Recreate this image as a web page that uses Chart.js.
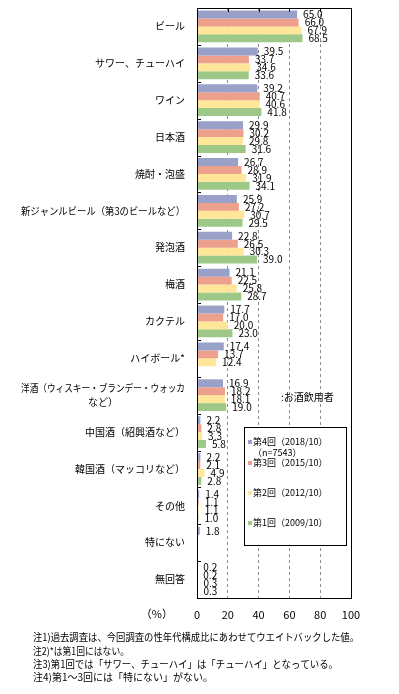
<!DOCTYPE html>
<html lang="ja">
<head>
	<meta charset="utf-8">
	<script src="https://cdn.jsdelivr.net/npm/chart.js@4.4.1/dist/chart.umd.min.js"></script>
	<style>
		html, body { margin:0; padding:0; background:#fff; }
	</style>
</head>
<body>
	<canvas id="myChart" width="399" height="694"></canvas>
	<script>
	var categorias = [
		['ビール'],
		['サワー、チューハイ'],
		['ワイン'],
		['日本酒'],
		['焼酎・泡盛'],
		['新ジャンルビール（第3のビールなど）'],
		['発泡酒'],
		['梅酒'],
		['カクテル'],
		['ハイボール*'],
		['洋酒（ウィスキー・ブランデー・ウォッカ', 'など）'],
		['中国酒（紹興酒など）'],
		['韓国酒（マッコリなど）'],
		['その他'],
		['特にない'],
		['無回答']
	];
	var nomesSeries = ['第4回（2018/10）', '第3回（2015/10）', '第2回（2012/10）', '第1回（2009/10）'];
	var serie4 = [65.0, 39.5, 39.2, 29.9, 26.7, 25.9, 22.8, 21.1, 17.7, 17.4, 16.9, 2.2, 2.2, 1.4, 1.8, 0.2];
	var serie3 = [66.0, 33.7, 40.7, 30.2, 28.9, 27.2, 26.5, 22.5, 17.0, 13.7, 18.2, 2.8, 2.1, 1.1, null, 0.2];
	var serie2 = [67.9, 34.6, 40.6, 29.8, 31.9, 30.7, 30.3, 25.8, 20.0, 12.4, 18.1, 3.3, 4.9, 1.1, null, 0.3];
	var serie1 = [68.5, 33.6, 41.8, 31.6, 34.1, 29.5, 39.0, 28.7, 23.0, null, 19.0, 5.8, 2.8, 1.0, null, 0.3];
	var ticksX = [0, 20, 40, 60, 80, 100];
	var notas = [
		'注1)過去調査は、今回調査の性年代構成比にあわせてウエイトバックした値。',
		'注2)*は第1回にはない。',
		'注3)第1回では「サワー、チューハイ」は「チューハイ」となっている。',
		'注4)第1～3回には「特にない」がない。'
	];
	var cores = ['#9aa1c9', '#eda08b', '#ffe699', '#9dc888'];
	var fonte = "'Noto Sans CJK JP', 'Noto Sans', sans-serif";

	// rotulos, moldura, legenda e notas
	var extras = {
		id: 'extras',
		afterDatasetsDraw: function(chart)
		{
			var ctx = chart.ctx;
			var a = chart.chartArea;
			var ys = chart.scales.y;
			var xs = chart.scales.x;
			ctx.save();

			// valores
			ctx.fillStyle = '#000';
			ctx.font = '10px ' + fonte;
			ctx.textAlign = 'left';
			ctx.textBaseline = 'middle';
			chart.data.datasets.forEach(function(ds, i)
			{
				var meta = chart.getDatasetMeta(i);
				meta.data.forEach(function(bar, j)
				{
					var v = ds.data[j];
					if (v === null) return;
					ctx.fillText(v.toFixed(1), bar.x + 6, bar.y);
				});
			});

			// moldura
			ctx.strokeStyle = '#000';
			ctx.lineWidth = 1;
			ctx.strokeRect(Math.round(a.left) + 0.5, Math.round(a.top) + 0.5, Math.round(a.right - a.left), Math.round(a.bottom - a.top));

			// marcas internas
			ctx.beginPath();
			var passo = (a.bottom - a.top) / categorias.length;
			for (var k = 0; k <= categorias.length; k++)
			{
				var yy = Math.round(a.top + k * passo) + 0.5;
				ctx.moveTo(a.left, yy);
				ctx.lineTo(a.left + 4, yy);
			}
			for (var t = 1; t < ticksX.length - 1; t++)
			{
				var xx = Math.round(xs.getPixelForValue(ticksX[t])) + 0.5;
				ctx.moveTo(xx, a.top);
				ctx.lineTo(xx, a.top + 4);
			}
			ctx.stroke();

			// categorias
			ctx.font = '10px ' + fonte;
			categorias.forEach(function(cat, j)
			{
				var yc = ys.getPixelForValue(j);
				var w = Math.min(ctx.measureText(cat[0]).width, 164);
				ctx.textAlign = 'right';
				if (cat.length == 1)
				{
					ctx.fillText(cat[0], a.left - 12, yc, 164);
				}
				else
				{
					ctx.fillText(cat[0], a.left - 12, yc - 7, 164);
					ctx.textAlign = 'center';
					ctx.fillText(cat[1], a.left - 12 - w / 2, yc + 7);
				}
			});

			// (%)
			ctx.textAlign = 'right';
			ctx.font = '11px ' + fonte;
			ctx.fillText('（%）', a.left - 24, a.bottom + 16);

			// nota
			ctx.textAlign = 'left';
			ctx.font = '10px ' + fonte;
			ctx.fillText(':お酒飲用者', 281, 397);

			// legenda
			ctx.fillStyle = '#fff';
			ctx.fillRect(244, 427, 102, 118);
			ctx.strokeStyle = '#000';
			ctx.strokeRect(244.5, 427.5, 102, 118);
			ctx.font = '9px ' + fonte;
			var posY = [442, 463, 493, 523];
			for (var s = 0; s < nomesSeries.length; s++)
			{
				ctx.fillStyle = cores[s];
				ctx.fillRect(248, posY[s] - 2, 4, 4);
				ctx.fillStyle = '#000';
				ctx.fillText(nomesSeries[s], 253, posY[s], 79);
			}
			ctx.fillText('（n=7543）', 253, 453);

			// notas de rodape
			var ny = [637, 651, 664, 677];
			var larg = [326, 96, 305, 180];
			ctx.font = '10px ' + fonte;
			for (var n = 0; n < notas.length; n++)
			{
				ctx.fillText(notas[n], 33, ny[n], larg[n]);
			}
			ctx.restore();
		}
	};

	var ctx = document.getElementById('myChart').getContext('2d');
	var myChart = new Chart(ctx, {
		type: 'bar',
		data:
		{
			labels: categorias.map(function(c) { return c.join(''); }),
			datasets:
			[
				{ label: nomesSeries[0], data: serie4, backgroundColor: cores[0] },
				{ label: nomesSeries[1], data: serie3, backgroundColor: cores[1] },
				{ label: nomesSeries[2], data: serie2, backgroundColor: cores[2] },
				{ label: nomesSeries[3], data: serie1, backgroundColor: cores[3] }
			]
		},
		options:
		{
			responsive: false,
			animation: false,
			indexAxis: 'y',
			categoryPercentage: 0.86,
			barPercentage: 1.0,
			layout: { padding: { top: 8, right: 48, left: 0, bottom: 0 } },
			plugins:
			{
				legend: { display: false },
				tooltip: { enabled: false }
			},
			scales:
			{
				x:
				{
					min: 0,
					max: 100,
					afterFit: function(scale) { scale.height = 96; },
					afterBuildTicks: function(scale) { scale.ticks = ticksX.map(function(v) { return { value: v }; }); },
					grid: { color: '#8c8c8c', drawTicks: false, lineWidth: 1 },
					border: { display: false, dash: [3, 3] },
					ticks: { color: '#000', padding: 10, font: { family: fonte, size: 11 } }
				},
				y:
				{
					afterFit: function(scale) { scale.width = 197; },
					grid: { display: false },
					border: { display: false },
					ticks: { display: false }
				}
			}
		},
		plugins: [extras]
	});
	</script>
</body>
</html>
